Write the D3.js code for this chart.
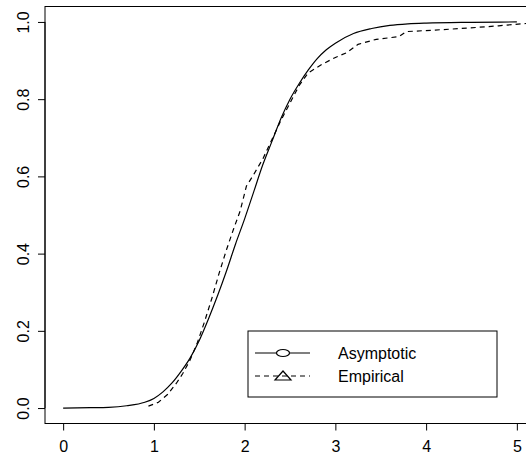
<!DOCTYPE html>
<html>
<head>
<meta charset="utf-8">
<script src="https://cdn.jsdelivr.net/npm/d3@7"></script>
<style>
  body { margin: 0; background: #fff; }
  svg { display: block; font-family: "Liberation Sans", Arial, sans-serif; }
</style>
</head>
<body>
<svg id="chart" width="526" height="455"></svg>
<script>
const WIDTH = 526;
const HEIGHT = 455;

// asymptotic CDF
const asymX = [0, 0.3, 0.5, 0.7, 0.9, 1.0, 1.1, 1.2, 1.3, 1.4, 1.5, 1.6, 1.7, 1.8, 1.9, 2.0, 2.1, 2.2, 2.3, 2.4, 2.5, 2.6, 2.7, 2.8, 2.9, 3.0, 3.2, 3.4, 3.6, 3.8, 4.0, 4.5, 5.0];
const asymY = [0, 0.001, 0.002, 0.006, 0.015, 0.025, 0.042, 0.065, 0.095, 0.13, 0.175, 0.23, 0.29, 0.355, 0.425, 0.49, 0.56, 0.63, 0.69, 0.75, 0.8, 0.84, 0.875, 0.905, 0.928, 0.945, 0.97, 0.983, 0.991, 0.995, 0.997, 0.999, 1.0];

// empirical CDF
const empX = [0.94, 1.05, 1.15, 1.25, 1.32, 1.40, 1.48, 1.56, 1.64, 1.72, 1.80, 1.88, 1.95, 2.02, 2.10, 2.20, 2.30, 2.40, 2.50, 2.60, 2.70, 2.85, 3.00, 3.12, 3.25, 3.45, 3.70, 3.78, 4.10, 4.45, 4.80, 5.15];
const empY = [0.005, 0.015, 0.035, 0.065, 0.09, 0.125, 0.17, 0.225, 0.285, 0.35, 0.41, 0.465, 0.51, 0.575, 0.605, 0.645, 0.695, 0.745, 0.79, 0.835, 0.868, 0.89, 0.908, 0.92, 0.942, 0.955, 0.962, 0.975, 0.979, 0.984, 0.99, 0.997];

const xTicks = [0, 1, 2, 3, 4, 5];
const yTicks = [0, 0.2, 0.4, 0.6, 0.8, 1.0];
const legendLabels = ["Asymptotic", "Empirical"];

const x = d3.scaleLinear().domain([-0.2, 5.2]).range([45, 535]);
const y = d3.scaleLinear().domain([-0.04, 1.04]).range([423.5, 6.5]);

const svg = d3.select("#chart");

svg.append("defs").append("clipPath").attr("id", "plotclip")
  .append("rect")
  .attr("x", x(-0.2)).attr("y", y(1.04))
  .attr("width", x(5.2) - x(-0.2)).attr("height", y(-0.04) - y(1.04));

// frame
svg.append("rect")
  .attr("x", x(-0.2)).attr("y", y(1.04))
  .attr("width", x(5.2) - x(-0.2)).attr("height", y(-0.04) - y(1.04))
  .attr("fill", "none").attr("stroke", "#000").attr("stroke-width", 1);

// x axis
const gx = svg.append("g")
  .attr("transform", `translate(0,${y(-0.04)})`)
  .call(d3.axisBottom(x).tickValues(xTicks).tickFormat(d3.format("d")).tickSize(7).tickPadding(10))
  .call(g => g.select(".domain").attr("d", `M${x(0)},0H${x(5)}`));
gx.selectAll("text").attr("font-size", 16).attr("fill", "#000").attr("font-family", "Liberation Sans, Arial, sans-serif");

// y axis
const gy = svg.append("g")
  .attr("transform", `translate(${x(-0.2)},0)`)
  .call(d3.axisLeft(y).tickValues(yTicks).tickFormat(d3.format(".1f")).tickSize(7))
  .call(g => g.select(".domain").attr("d", `M0,${y(0)}V${y(1)}`));
gy.selectAll("text")
  .attr("font-size", 16).attr("fill", "#000").attr("font-family", "Liberation Sans, Arial, sans-serif")
  .attr("x", null).attr("dy", null)
  .attr("text-anchor", "middle")
  .attr("transform", "translate(-16.5,0) rotate(-90)");

const plot = svg.append("g").attr("clip-path", "url(#plotclip)");

plot.append("path")
  .datum(d3.zip(asymX, asymY))
  .attr("d", d3.line().x(d => x(d[0])).y(d => y(d[1])).curve(d3.curveMonotoneX))
  .attr("fill", "none").attr("stroke", "#000").attr("stroke-width", 1.2);

plot.append("path")
  .datum(d3.zip(empX, empY))
  .attr("d", d3.line().x(d => x(d[0])).y(d => y(d[1])))
  .attr("fill", "none").attr("stroke", "#000").attr("stroke-width", 1.2)
  .attr("stroke-dasharray", "5,4");

// legend
const legend = svg.append("g").attr("transform", "translate(248,331)");
legend.append("rect")
  .attr("width", 249).attr("height", 66)
  .attr("fill", "#fff").attr("stroke", "#000").attr("stroke-width", 1);

const rows = legend.selectAll("g.row").data(legendLabels).join("g")
  .attr("class", "row")
  .attr("transform", (d, i) => `translate(0,${22 + i * 23})`);

rows.append("line")
  .attr("x1", 7).attr("x2", 62).attr("y1", 0).attr("y2", 0)
  .attr("stroke", "#000").attr("stroke-width", 1.2)
  .attr("stroke-dasharray", (d, i) => i === 0 ? null : "5,4");

rows.filter((d, i) => i === 0).append("ellipse")
  .attr("cx", 35).attr("cy", 0).attr("rx", 6.5).attr("ry", 3.5)
  .attr("fill", "#fff").attr("stroke", "#000").attr("stroke-width", 1.2);

rows.filter((d, i) => i === 1).append("path")
  .attr("d", "M27,4L35,-5L43,4Z")
  .attr("fill", "none").attr("stroke", "#000").attr("stroke-width", 1.2);

rows.append("text")
  .attr("x", 90).attr("y", 0).attr("dy", "0.35em")
  .attr("font-size", 16).attr("fill", "#000")
  .text(d => d);
</script>
</body>
</html>
